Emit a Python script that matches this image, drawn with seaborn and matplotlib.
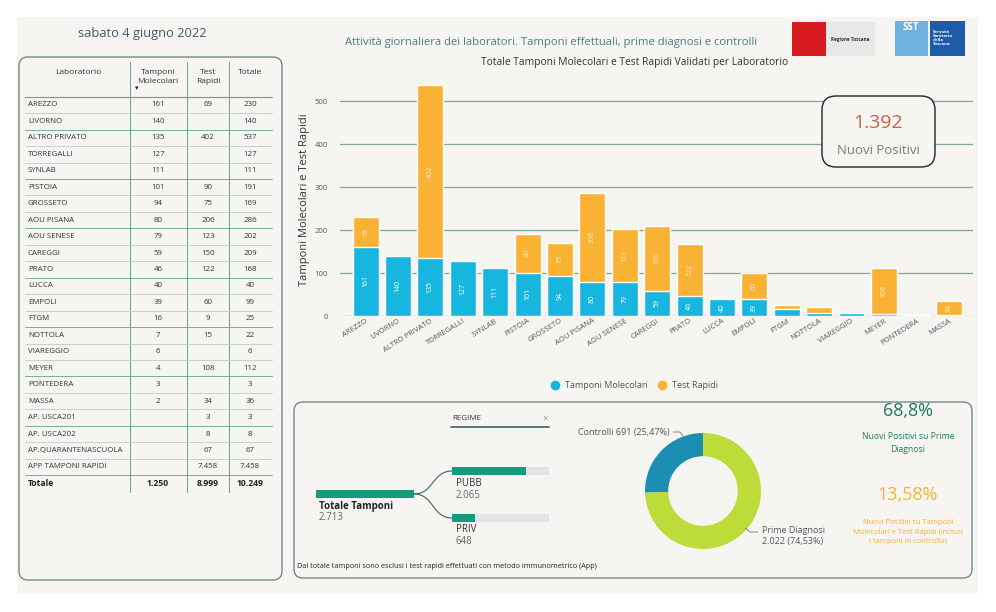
import numpy as np
import pandas as pd
import seaborn as sns
import matplotlib.pyplot as plt
from matplotlib.patches import FancyBboxPatch, Rectangle, PathPatch
from matplotlib.path import Path
from matplotlib.lines import Line2D

# ---- data ----
labs = ["AREZZO", "LIVORNO", "ALTRO PRIVATO", "TORREGALLI", "SYNLAB", "PISTOIA",
        "GROSSETO", "AOU PISANA", "AOU SENESE", "CAREGGI", "PRATO", "LUCCA", "EMPOLI",
        "FTGM", "NOTTOLA", "VIAREGGIO", "MEYER", "PONTEDERA", "MASSA", "AP. USCA201",
        "AP. USCA202", "AP.QUARANTENASCUOLA", "APP TAMPONI RAPIDI"]
molecolari = [161, 140, 135, 127, 111, 101, 94, 80, 79, 59, 46, 40, 39, 16, 7, 6, 4, 3, 2,
              None, None, None, None]
rapidi = [69, None, 402, None, None, 90, 75, 206, 123, 150, 122, None, 60, 9, 15, None,
          108, None, 34, 3, 8, 67, 7458]
totale = [230, 140, 537, 127, 111, 191, 169, 286, 202, 209, 168, 40, 99, 25, 22, 6, 112,
          3, 36, 3, 8, 67, 7458]
totali_row = [1250, 8999, 10249]

regime = ["PUBB", "PRIV"]
regime_vals = [2065, 648]
tot_tamponi = 2713

donut_labels = ["Controlli", "Prime Diagnosi"]
donut_vals = [691, 2022]
donut_pct = ["25,47%", "74,53%"]

nuovi_positivi = 1392
kpi_prime = "68,8%"
kpi_tamponi = "13,58%"

CYAN = "#17B6DF"
ORANGE = "#F9B233"
BG = "#F6F5F1"
W, H = 996, 612


def itnum(v):
    return f"{v:,}".replace(",", ".")


sns.set_theme(style="white")
plt.rcParams['font.family'] = ['Open Sans', 'DejaVu Sans']

fig = plt.figure(figsize=(W / 100, H / 100), dpi=100, facecolor="white")

bg = fig.add_axes([0, 0, 1, 1], zorder=0)
bg.set_xlim(0, W); bg.set_ylim(H, 0); bg.axis("off")
bg.add_patch(Rectangle((17, 17), 961, 576, color=BG, lw=0))

# ---- stacked bars ----
n = 19
df = pd.DataFrame({"lab": labs[:n],
                   "mol": molecolari[:n],
                   "rap": [r if r else 0 for r in rapidi[:n]]})
df["tot"] = df["mol"] + df["rap"]

ax = fig.add_axes([340 / W, 1 - 316 / H, (973 - 340) / W, (316 - 83.8) / H], zorder=1)
ax.patch.set_alpha(0)
sns.barplot(data=df, x="lab", y="tot", color=ORANGE, width=0.8, saturation=1, ax=ax)
sns.barplot(data=df, x="lab", y="mol", color=CYAN, width=0.8, saturation=1, ax=ax)
ax.set_xlim(-0.79, 18.75)
ax.set_ylim(0, 540)
ax.set_yticks([0, 100, 200, 300, 400, 500])
ax.yaxis.grid(True, color="#7FA99B", lw=0.9)
ax.set_axisbelow(True)
for s in ax.spines.values():
    s.set_visible(False)
ax.tick_params(axis="y", labelsize=5.5, labelcolor="#555555", length=0, pad=9)
ax.tick_params(axis="x", labelsize=5.5, labelcolor="#555555", length=0, pad=1)
plt.setp(ax.get_xticklabels(), rotation=32, ha="right", rotation_mode="anchor")
ax.set_xlabel("")
ax.set_ylabel("Tamponi Molecolari e Test Rapidi", fontsize=8, color="#333333", labelpad=3)

for i, row in df.iterrows():
    if row["mol"] >= 30:
        ax.text(i, row["mol"] / 2, str(int(row["mol"])), rotation=90, ha="center",
                va="center", fontsize=5, color="white")
    if row["rap"] >= 30:
        ax.text(i, row["mol"] + row["rap"] / 2, str(int(row["rap"])), rotation=90,
                ha="center", va="center", fontsize=5, color="white", alpha=0.8)

handles = [Line2D([], [], marker="o", ls="", color=CYAN, markersize=6),
           Line2D([], [], marker="o", ls="", color=ORANGE, markersize=6)]
fig.legend(handles, ["Tamponi Molecolari", "Test Rapidi"], loc="center",
           bbox_to_anchor=(632 / W, 1 - 386 / H), ncol=2, frameon=False, fontsize=6.5,
           handletextpad=0.05, columnspacing=0.6, labelcolor="#555555")

# ---- donut ----
r = 58
dax = fig.add_axes([(703 - r) / W, 1 - (491 + r) / H, 2 * r / W, 2 * r / H], zorder=2)
dax.pie(donut_vals, colors=["#1B8EB2", "#BDDC3A"], startangle=90, counterclock=True,
        radius=1, wedgeprops=dict(width=0.4, lw=0))
dax.set_xlim(-1, 1); dax.set_ylim(-1, 1); dax.set_aspect("equal")
dax.axis("off")

# ---- overlay texts and shapes ----
ov = fig.add_axes([0, 0, 1, 1], zorder=3)
ov.set_xlim(0, W); ov.set_ylim(H, 0); ov.axis("off"); ov.patch.set_alpha(0)

ov.text(142, 33, "sabato 4 giugno 2022", ha="center", va="center", fontsize=9.3,
        color="#3F5B60")
ov.text(551, 43, "Attività giornaliera dei laboratori. Tamponi effettuali, prime diagnosi e controlli",
        ha="center", va="center", fontsize=8.1, color="#4E7D82")
ov.text(635, 62, "Totale Tamponi Molecolari e Test Rapidi Validati per Laboratorio",
        ha="center", va="center", fontsize=7.4, color="#333333")

# logos
ov.add_patch(Rectangle((792, 22), 34, 34, color="#D71920", lw=0))
ov.add_patch(Rectangle((826, 22), 49, 34, color="#E8E8E8", lw=0))
ov.text(850, 39, "Regione Toscana", ha="center", va="center", fontsize=3.3,
        fontweight="bold", color="#333333")
ov.add_patch(Rectangle((895, 21), 33, 35, color="#6FB2E0", lw=0))
ov.text(911, 28, "SST", ha="center", va="center", fontsize=7, fontweight="bold",
        color="white")
ov.add_patch(Rectangle((930, 21), 35, 35, color="#1D5CA8", lw=0))
ov.text(933, 38, "Servizio\nSanitario\ndella\nToscana", ha="left", va="center",
        fontsize=3.2, fontweight="bold", color="white", linespacing=1.0)

# Nuovi positivi box
ov.add_patch(FancyBboxPatch((822, 96), 113, 71, boxstyle="round,pad=0,rounding_size=14",
                            fc=BG, ec="#222222", lw=1))
ov.text(878, 123, itnum(nuovi_positivi), ha="center", va="center", fontsize=14,
        color="#C8614B")
ov.text(878, 151, "Nuovi Positivi", ha="center", va="center", fontsize=9.5,
        color="#7A7A7A")

# table panel
ov.add_patch(FancyBboxPatch((19, 57), 263, 523, boxstyle="round,pad=0,rounding_size=9",
                            fc=BG, ec="#6F8C87", lw=1, zorder=0))
hdr_c = "#333333"
ov.text(78, 72, "Laboratorio", ha="center", va="center", fontsize=6, color=hdr_c)
ov.text(158, 77, "Tamponi\nMolecolari", ha="center", va="center", fontsize=6,
        color=hdr_c, linespacing=1.3)
ov.text(208, 77, "Test\nRapidi", ha="center", va="center", fontsize=6, color=hdr_c,
        linespacing=1.3)
ov.text(250, 72, "Totale", ha="center", va="center", fontsize=6, color=hdr_c)
ov.text(137, 89, "▾", ha="center", va="center", fontsize=5, color="#222222")
for xv in [130, 187, 229]:
    ov.plot([xv, xv], [62, 492], color="#5FA58C", lw=0.7)
ov.plot([25, 272], [97, 97], color="#5FA58C", lw=0.8)

y0, dy = 105, 16.45
fs = 5.7
for k, lab in enumerate(labs):
    y = y0 + k * dy
    ov.text(28, y, lab, ha="left", va="center", fontsize=fs, color="#333333")
    if molecolari[k] is not None:
        ov.text(158, y, itnum(molecolari[k]), ha="center", va="center", fontsize=fs,
                color="#333333")
    if rapidi[k] is not None:
        ov.text(208, y, itnum(rapidi[k]), ha="center", va="center", fontsize=fs,
                color="#333333")
    ov.text(250, y, itnum(totale[k]), ha="center", va="center", fontsize=fs,
            color="#333333")
    lc = "#5FA58C" if k % 3 == 1 else "#B9CFC6"
    ov.plot([25, 272], [y + dy / 2, y + dy / 2], color=lc, lw=0.6)
yt = y0 + len(labs) * dy
ov.text(28, yt, "Totale", ha="left", va="center", fontsize=6.2, fontweight="bold",
        color="#222222")
for xv, v in zip([158, 208, 250], totali_row):
    ov.text(xv, yt, itnum(v), ha="center", va="center", fontsize=6.2, fontweight="bold",
            color="#222222")

# bottom panel
ov.add_patch(FancyBboxPatch((294, 402), 678, 176, boxstyle="round,pad=0,rounding_size=9",
                            fc="none", ec="#6F8C87", lw=1, zorder=0))
ov.text(452, 419, "REGIME", ha="left", va="center", fontsize=5.8, color="#333333")
ov.text(545, 419, "×", ha="center", va="center", fontsize=7, color="#999999")
ov.plot([451, 549], [427, 427], color="#3C6464", lw=1.2)

GREEN = "#139C7B"
ov.add_patch(Rectangle((316, 490), 98, 8, color=GREEN, lw=0))
ov.text(319, 507, "Totale Tamponi", ha="left", va="center", fontsize=7,
        fontweight="bold", color="#222222")
ov.text(319, 517, itnum(tot_tamponi), ha="left", va="center", fontsize=7, color="#666666")
for lab, v, yb in zip(regime, regime_vals, [467, 514]):
    ov.add_patch(Rectangle((452, yb), 97, 8, color="#E3E3E3", lw=0))
    ov.add_patch(Rectangle((452, yb), 97 * v / tot_tamponi, 8, color=GREEN, lw=0))
    ov.text(456, yb + 16, lab, ha="left", va="center", fontsize=7, color="#333333")
    ov.text(456, yb + 28, itnum(v), ha="left", va="center", fontsize=7, color="#666666")
    ym = yb + 4
    path = Path([(414, 494), (434, 494), (432, ym), (452, ym)],
                [Path.MOVETO, Path.CURVE4, Path.CURVE4, Path.CURVE4])
    ov.add_patch(PathPatch(path, fc="none", ec="#3C6464", lw=0.8))
ov.text(297, 567, "Dal totale tamponi sono esclusi i test rapidi effettuati con metodo immunometrico (App)",
        ha="left", va="center", fontsize=5.2, color="#222222")

# donut labels
ov.text(670, 432, f"{donut_labels[0]} {itnum(donut_vals[0])} ({donut_pct[0]})",
        ha="right", va="center", fontsize=6.5, color="#555555")
ov.plot([673, 680, 683], [432, 432, 436], color="#777777", lw=0.6)
ov.text(762, 536, f"{donut_labels[1]}\n{itnum(donut_vals[1])} ({donut_pct[1]})",
        ha="left", va="center", fontsize=6.5, color="#555555", linespacing=1.3)
ov.plot([745, 750, 758], [528, 532, 532], color="#777777", lw=0.6)

# KPIs
ov.text(908, 411, kpi_prime, ha="center", va="center", fontsize=13, color="#1F7A5C")
ov.text(908, 443, "Nuovi Positivi su Prime\nDiagnosi", ha="center", va="center",
        fontsize=6.2, color="#1F7A5C", linespacing=1.5)
ov.text(908, 532, "Nuovi Positivi su Tamponi\nMolecolari e Test Rapidi (inclusi\ni tamponi di controllo)",
        ha="center", va="center", fontsize=5.5, color="#F5B335", linespacing=1.5)
ov.text(908, 495, kpi_tamponi, ha="center", va="center", fontsize=13, color="#F5B335")

fig.savefig("out.png", dpi=100, facecolor="white")
